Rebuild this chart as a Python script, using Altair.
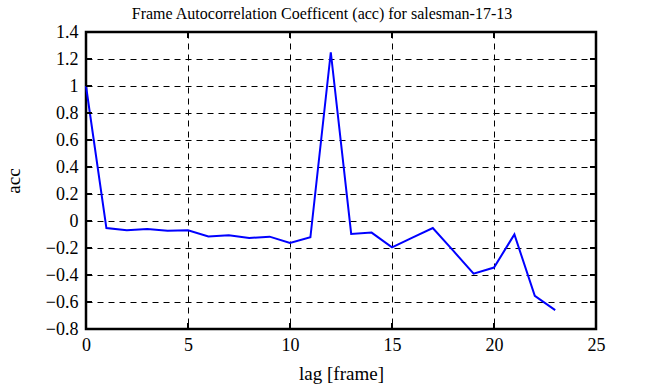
import altair as alt
import pandas as pd

lags = list(range(24))
acc = [1.0, -0.052, -0.069, -0.060, -0.072, -0.069, -0.114, -0.106, -0.126, -0.116,
       -0.163, -0.121, 1.25, -0.096, -0.086, -0.195, -0.123, -0.052, -0.22, -0.39,
       -0.345, -0.099, -0.555, -0.66]

x_ticks = [0, 5, 10, 15, 20, 25]
y_ticks = [-0.8, -0.6, -0.4, -0.2, 0, 0.2, 0.4, 0.6, 0.8, 1, 1.2, 1.4]

df = pd.DataFrame({"lag": lags, "acc": acc})
xt = pd.DataFrame({"t": x_ticks})
yt = pd.DataFrame({"t": y_ticks})

FONT = "Liberation Serif"
W, H = 510, 297

xs = alt.Scale(domain=[0, 25], nice=False)
ys = alt.Scale(domain=[-0.8, 1.4], nice=False, zero=False)

xaxis = alt.Axis(values=x_ticks, title="lag [frame]", grid=True,
                 gridColor="black", gridDash=[6, 5], gridWidth=1, gridOpacity=1,
                 ticks=False, domain=False, labelFontSize=18, labelFont=FONT,
                 labelColor="black", labelPadding=7, titleFont=FONT,
                 titleFontSize=19, titleFontWeight="normal", titleColor="black",
                 titlePadding=10, labelFlush=False, labelOverlap=False)
yaxis = alt.Axis(values=y_ticks, title="acc", grid=True, format="~g",
                 gridColor="black", gridDash=[6, 5], gridWidth=1, gridOpacity=1,
                 ticks=False, domain=False, labelFontSize=18, labelFont=FONT,
                 labelColor="black", labelPadding=8, titleFont=FONT,
                 titleFontSize=19, titleFontWeight="normal", titleColor="black",
                 titlePadding=22, labelFlush=False, labelOverlap=False)

line = alt.Chart(df).mark_line(color="#0000ff", strokeWidth=2, strokeJoin="miter").encode(
    x=alt.X("lag:Q", scale=xs, axis=xaxis),
    y=alt.Y("acc:Q", scale=ys, axis=yaxis),
)

xtick_bot = alt.Chart(xt).mark_rule(color="black", strokeWidth=2).encode(
    x=alt.X("t:Q", scale=xs, axis=xaxis), y=alt.value(H), y2=alt.value(H - 6))
xtick_top = alt.Chart(xt).mark_rule(color="black", strokeWidth=2).encode(
    x=alt.X("t:Q", scale=xs, axis=xaxis), y=alt.value(0), y2=alt.value(6))
ytick_l = alt.Chart(yt).mark_rule(color="black", strokeWidth=2).encode(
    y=alt.Y("t:Q", scale=ys, axis=yaxis), x=alt.value(0), x2=alt.value(6))
ytick_r = alt.Chart(yt).mark_rule(color="black", strokeWidth=2).encode(
    y=alt.Y("t:Q", scale=ys, axis=yaxis), x=alt.value(W), x2=alt.value(W - 6))

chart = alt.layer(line, xtick_bot, xtick_top, ytick_l, ytick_r).properties(
    width=W, height=H,
    title=alt.TitleParams("Frame Autocorrelation Coefficent (acc) for salesman-17-13",
                          font=FONT, fontSize=16, fontWeight="normal", color="black",
                          offset=1, anchor="middle", dx=-19),
    autosize=alt.AutoSizeParams(type="none"),
    padding={"left": 86, "top": 32, "right": 50, "bottom": 58},
).configure_view(stroke="black", strokeWidth=2.5)

chart.save("out.html", embed_options={"renderer": "svg", "actions": False})
